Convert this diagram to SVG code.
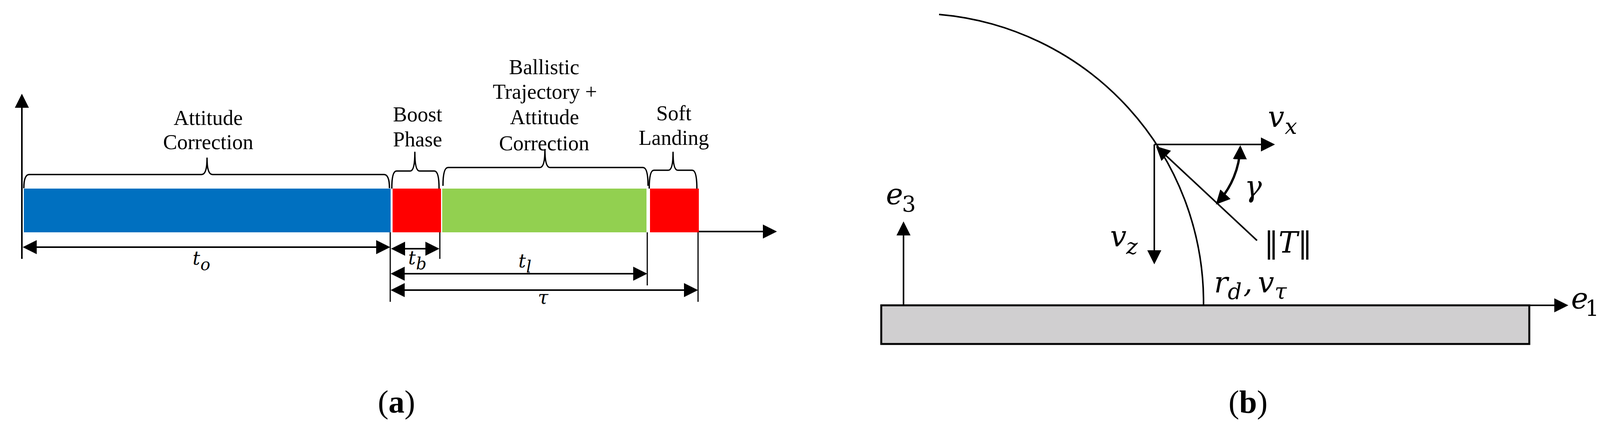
<svg xmlns="http://www.w3.org/2000/svg" width="4200" height="1109" viewBox="0 0 4200 1109">
<style>
.lbl{font-family:"Liberation Serif","Times New Roman",serif;font-size:54px;fill:#000;text-anchor:middle}
.cap{font-family:"Liberation Serif","Times New Roman",serif;font-size:82px;fill:#000;text-anchor:middle}
.m{font-family:"DejaVu Serif",serif;font-style:italic;fill:#000}
.ma{font-size:48px}
.sa{font-size:42px}
.mb{font-size:74px}
.sb{font-size:56px}
.up{font-family:"DejaVu Serif",serif;font-style:normal}
.ln{fill:none;stroke:#000;stroke-width:4}
.ext{fill:none;stroke:#000;stroke-width:3}
.br{fill:none;stroke:#000;stroke-width:3.5;stroke-linejoin:round}
.arr{marker-end:url(#ah)}
.darr{marker-start:url(#ah);marker-end:url(#ah)}
</style>
<defs>
<marker id="ah" viewBox="0 0 36 36" refX="31" refY="18" markerWidth="36" markerHeight="36" markerUnits="userSpaceOnUse" orient="auto-start-reverse">
<path d="M0,0 L36,18 L0,36 z" fill="#000"/>
</marker>
</defs>
<rect width="4200" height="1109" fill="#fff"/>

<!-- Panel (a) -->
<g id="bar-attitude">
<rect x="61" y="483" width="939" height="112" fill="#0070C0"/>
</g>
<g id="bar-boost">
<rect x="1005" y="483" width="124" height="112" fill="#FF0000"/>
</g>
<g id="bar-ballistic">
<rect x="1132" y="483" width="523" height="112" fill="#92D050"/>
</g>
<g id="bar-soft">
<rect x="1664" y="483" width="125" height="112" fill="#FF0000"/>
</g>

<g id="label-attitude">
<path class="br" d="M61 482 Q61 447 75 447 L516 447 Q530 447 530 405 Q530 447 544 447 L983 447 Q997 447 997 482"/>
<text class="lbl" x="533" y="320">Attitude</text>
<text class="lbl" x="533" y="382">Correction</text>
</g>
<g id="label-boost">
<path class="br" d="M1003 483 Q1003 438 1015 438 L1050 438 Q1062 438 1062 390 Q1062 438 1074 438 L1112 438 Q1124 438 1124 483"/>
<text class="lbl" x="1069" y="311">Boost</text>
<text class="lbl" x="1069" y="375">Phase</text>
</g>
<g id="label-ballistic">
<path class="br" d="M1134 476 Q1134 429 1147 429 L1382 429 Q1395 429 1395 383 Q1395 429 1408 429 L1646 429 Q1659 429 1659 476"/>
<text class="lbl" x="1393" y="190">Ballistic</text>
<text class="lbl" x="1395" y="253">Trajectory +</text>
<text class="lbl" x="1394" y="318">Attitude</text>
<text class="lbl" x="1393" y="385">Correction</text>
</g>
<g id="label-soft">
<path class="br" d="M1662 483 Q1662 436 1674 436 L1711 436 Q1723 436 1723 390 Q1723 436 1735 436 L1772 436 Q1784 436 1784 483"/>
<text class="lbl" x="1725" y="308">Soft</text>
<text class="lbl" x="1725" y="371">Landing</text>
</g>

<g id="connectors-a">
<line class="ln arr" x1="56" y1="663" x2="56" y2="245"/>
<line class="ln arr" x1="1789" y1="593" x2="1984" y2="593"/>
<line class="ext" x1="999" y1="595" x2="999" y2="773"/>
<line class="ext" x1="1126" y1="595" x2="1126" y2="663"/>
<line class="ext" x1="1657" y1="595" x2="1657" y2="731"/>
<line class="ext" x1="1787" y1="595" x2="1787" y2="773"/>
<line class="ln darr" x1="63" y1="633" x2="994" y2="633"/>
<line class="ln darr" x1="1006" y1="637" x2="1120" y2="637"/>
<line class="ln darr" x1="1005" y1="701" x2="1652" y2="701"/>
<line class="ln darr" x1="1005" y1="743" x2="1782" y2="743"/>
</g>

<g id="dim-labels">
<text class="m ma" x="493" y="678">t<tspan class="sa" x="513" y="692">o</tspan></text>
<text class="m ma" x="1045" y="677">t<tspan class="sa" x="1065" y="690">b</tspan></text>
<text class="m ma" x="1327" y="685">t<tspan class="sa" x="1347" y="698">l</tspan></text>
<text class="m ma" x="1377" y="778">τ</text>
</g>

<g id="caption-a">
<text class="cap" x="1015" y="1057">(<tspan font-weight="bold">a</tspan>)</text>
</g>

<!-- Panel (b) -->
<g id="ground">
<rect x="2256" y="782" width="1659" height="99" fill="#D0CFD0" stroke="#000" stroke-width="5"/>
</g>

<g id="connectors-b">
<line class="ln arr" x1="3915" y1="782" x2="4010" y2="782"/>
<line class="ln arr" x1="2313" y1="782" x2="2313" y2="572"/>
<path class="ln" d="M2404 37 A740 740 0 0 1 3081 782"/>
<line class="ln arr" x1="2955" y1="370" x2="3259" y2="370"/>
<line class="ln arr" x1="2955" y1="370" x2="2955" y2="672"/>
<line class="ln arr" x1="3218" y1="616" x2="2963" y2="378"/>
<path fill="none" stroke="#000" stroke-width="6" class="darr" d="M3175 377 A220 220 0 0 1 3116 520"/>
</g>

<g id="label-e1">
<text class="m mb" x="4022" y="790">e<tspan class="sb up" x="4058" y="809">1</tspan></text>
</g>
<g id="label-e3">
<text class="m mb" x="2268" y="523">e<tspan class="sb up" x="2309" y="542">3</tspan></text>
</g>
<g id="label-vx">
<text class="m mb" x="3246" y="325">v<tspan class="sb" x="3289" y="343">x</tspan></text>
</g>
<g id="label-vz">
<text class="m mb" x="2842" y="631">v<tspan class="sb" x="2883" y="651">z</tspan></text>
</g>
<g id="label-gamma">
<text class="m mb" x="3186" y="503">γ</text>
</g>
<g id="label-T">
<text class="m mb" x="3236" y="647"><tspan class="up">‖</tspan>T<tspan class="up">‖</tspan></text>
</g>
<g id="label-rd">
<text class="m mb" x="3108" y="749">r<tspan class="sb" x="3143" y="766">d</tspan><tspan x="3183" y="749">,</tspan><tspan x="3220" y="749">v</tspan><tspan class="sb" x="3263" y="765">τ</tspan></text>
</g>

<g id="caption-b">
<text class="cap" x="3195" y="1057">(<tspan font-weight="bold">b</tspan>)</text>
</g>
</svg>
